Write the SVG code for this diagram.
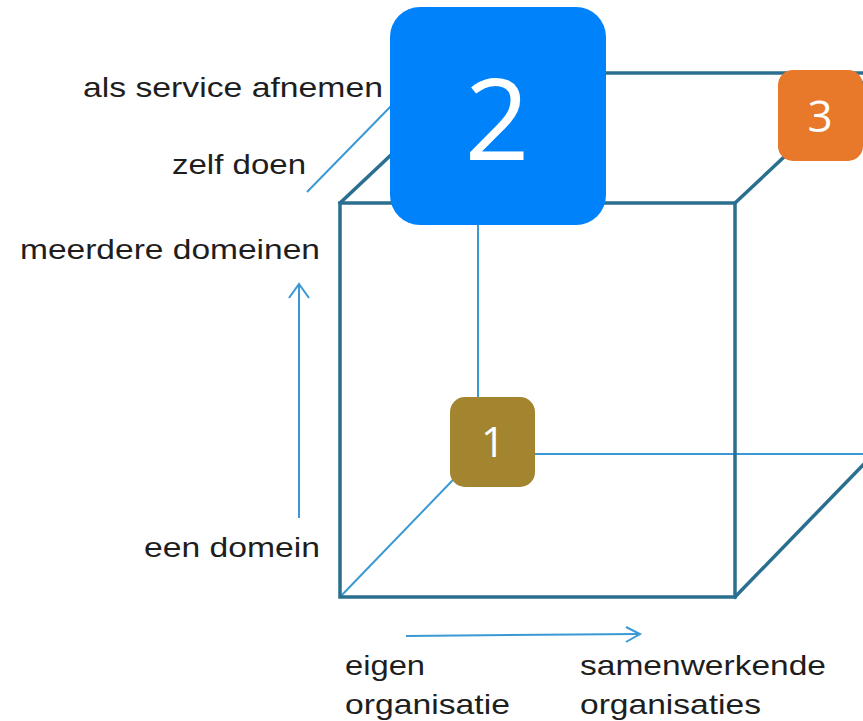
<svg xmlns="http://www.w3.org/2000/svg" width="863" height="721" viewBox="0 0 863 721">
<style>
.thick{stroke:#2a6f8f;stroke-width:3.5;fill:none;stroke-linecap:square}
.thin{stroke:#3a99d4;stroke-width:2;fill:none}
.lbl{font-family:"Liberation Sans",Arial,sans-serif;font-size:28px;fill:#1e1e1e}
.num{font-family:"Open Sans",sans-serif;fill:#fff;text-anchor:middle}
</style>
<rect width="863" height="721" fill="#fff"/>
<g id="connectors">
<line class="thin" x1="478" y1="73" x2="478" y2="454"/>
<line class="thin" x1="478" y1="454" x2="863" y2="454"/>
<line class="thin" x1="340" y1="597" x2="478" y2="454"/>
<line class="thin" x1="307" y1="192" x2="395" y2="102"/>
<line class="thin" x1="299" y1="518" x2="299" y2="285"/>
<polyline class="thin" points="289,298 299,284 309,298"/>
<line class="thin" x1="406" y1="636" x2="639" y2="634"/>
<polyline class="thin" points="626,627 640,634 626,642"/>
<line class="thick" x1="340" y1="203" x2="478" y2="73"/>
<line class="thick" x1="478" y1="73" x2="863" y2="73"/>
<line class="thick" x1="735" y1="203" x2="863" y2="83"/>
<line class="thick" x1="735" y1="597" x2="863" y2="465"/>
<rect class="thick" x="340" y="203" width="395" height="394"/>
</g>
<g id="labels">
<text class="lbl" x="83" y="97" textLength="300" lengthAdjust="spacingAndGlyphs">als service afnemen</text>
<text class="lbl" x="172" y="174" textLength="134" lengthAdjust="spacingAndGlyphs">zelf doen</text>
<text class="lbl" x="20" y="259" textLength="300" lengthAdjust="spacingAndGlyphs">meerdere domeinen</text>
<text class="lbl" x="144" y="557" textLength="176" lengthAdjust="spacingAndGlyphs">een domein</text>
<text class="lbl" x="345" y="675" textLength="80" lengthAdjust="spacingAndGlyphs">eigen</text>
<text class="lbl" x="345" y="714" textLength="165" lengthAdjust="spacingAndGlyphs">organisatie</text>
<text class="lbl" x="580" y="675" textLength="246" lengthAdjust="spacingAndGlyphs">samenwerkende</text>
<text class="lbl" x="580" y="714" textLength="181" lengthAdjust="spacingAndGlyphs">organisaties</text>
</g>
<g id="node1">
<rect x="450" y="397" width="85" height="90" rx="15" fill="#a3852f"/>
<text class="num" x="493" y="457" font-size="42">1</text>
</g>
<g id="node2">
<rect x="390" y="7" width="216" height="218" rx="30" fill="#0082fa"/>
<text class="num" x="497" y="160" font-size="114">2</text>
</g>
<g id="node3">
<rect x="778" y="70" width="85" height="91" rx="15" fill="#e8782a"/>
<text class="num" x="820" y="132" font-size="44">3</text>
</g>
</svg>
